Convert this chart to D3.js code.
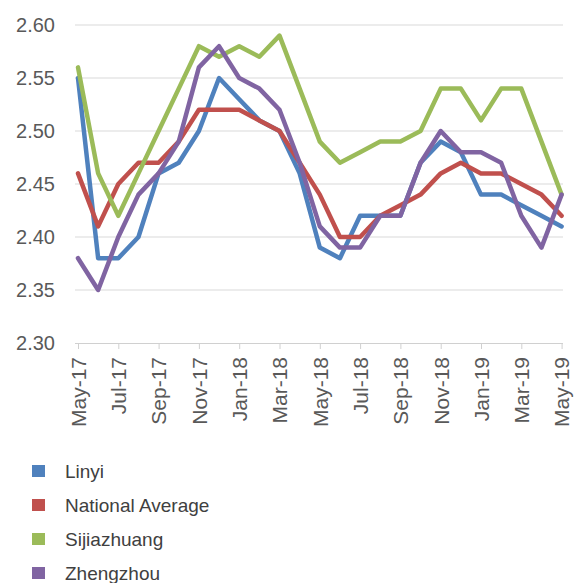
<!DOCTYPE html>
<html>
<head>
<meta charset="utf-8">
<script src="https://cdn.jsdelivr.net/npm/d3@7"></script>
<style>
  body { margin: 0; background: #fff; }
  text { font-family: 'Liberation Sans', Arial, sans-serif; }
</style>
</head>
<body>
<div id="container"></div>
<script>
var WIDTH = 583;
var HEIGHT = 583;

const months = ['May-17', 'Jun-17', 'Jul-17', 'Aug-17', 'Sep-17', 'Oct-17', 'Nov-17', 'Dec-17',
                'Jan-18', 'Feb-18', 'Mar-18', 'Apr-18', 'May-18', 'Jun-18', 'Jul-18', 'Aug-18',
                'Sep-18', 'Oct-18', 'Nov-18', 'Dec-18', 'Jan-19', 'Feb-19', 'Mar-19', 'Apr-19', 'May-19'];

const linyi = [2.55, 2.38, 2.38, 2.40, 2.46, 2.47, 2.50, 2.55, 2.53, 2.51, 2.50, 2.46, 2.39,
               2.38, 2.42, 2.42, 2.42, 2.47, 2.49, 2.48, 2.44, 2.44, 2.43, 2.42, 2.41];
const nationalAverage = [2.46, 2.41, 2.45, 2.47, 2.47, 2.49, 2.52, 2.52, 2.52, 2.51, 2.50, 2.47, 2.44,
                         2.40, 2.40, 2.42, 2.43, 2.44, 2.46, 2.47, 2.46, 2.46, 2.45, 2.44, 2.42];
const sijiazhuang = [2.56, 2.46, 2.42, 2.46, 2.50, 2.54, 2.58, 2.57, 2.58, 2.57, 2.59, 2.54, 2.49,
                     2.47, 2.48, 2.49, 2.49, 2.50, 2.54, 2.54, 2.51, 2.54, 2.54, 2.49, 2.44];
const zhengzhou = [2.38, 2.35, 2.40, 2.44, 2.46, 2.49, 2.56, 2.58, 2.55, 2.54, 2.52, 2.47, 2.41,
                   2.39, 2.39, 2.42, 2.42, 2.47, 2.50, 2.48, 2.48, 2.47, 2.42, 2.39, 2.44];

const seriesNames = ['Linyi', 'National Average', 'Sijiazhuang', 'Zhengzhou'];
const seriesColors = ['#4f81bd', '#c0504d', '#9bbb59', '#8064a2'];
const yTicks = [2.30, 2.35, 2.40, 2.45, 2.50, 2.55, 2.60];

const series = [linyi, nationalAverage, sijiazhuang, zhengzhou];

const svg = d3.select('#container')
  .append('svg')
    .attr('width', WIDTH)
    .attr('height', HEIGHT)
    .style('background', '#fff');

const x = d3.scalePoint()
            .domain(months)
            .range([78, 561.6]);

const y = d3.scaleLinear()
            .domain([2.30, 2.60])
            .range([343, 25]);

// gridlines
svg.append('g')
   .selectAll('line')
   .data(yTicks.slice(1))
   .enter()
   .append('line')
     .attr('x1', 75)
     .attr('x2', 563)
     .attr('y1', d => y(d))
     .attr('y2', d => y(d))
     .attr('stroke', '#d9d9d9')
     .attr('stroke-width', 1);

// y labels
svg.append('g')
   .selectAll('text')
   .data(yTicks)
   .enter()
   .append('text')
     .attr('x', 55)
     .attr('y', d => y(d))
     .attr('dy', '0.35em')
     .attr('text-anchor', 'end')
     .attr('fill', '#595959')
     .style('font-size', '20px')
     .text(d => d.toFixed(2));

// x axis, label every 2nd month
const xAxis = d3.axisBottom(x)
                .tickValues(months.filter((m, i) => i % 2 == 0))
                .tickSize(6)
                .tickSizeOuter(0);

const axisG = svg.append('g')
                 .attr('transform', `translate(0, ${y(2.30)})`)
                 .call(xAxis);

axisG.select('.domain')
     .attr('d', `M75,0.5H563`)
     .attr('stroke', '#d0d0d0');

axisG.selectAll('.tick line')
     .attr('stroke', '#d0d0d0');

axisG.selectAll('.tick text')
     .attr('transform', 'rotate(-90)')
     .attr('x', -14)
     .attr('y', 0)
     .attr('dy', '0.35em')
     .attr('text-anchor', 'end')
     .attr('fill', '#595959')
     .style('font-size', '21px')
     .style('font-family', "'Liberation Sans', Arial, sans-serif");

// lines
const line = d3.line()
               .x((d, i) => x(months[i]))
               .y(d => y(d));

svg.append('g')
   .selectAll('path')
   .data(series)
   .enter()
   .append('path')
     .attr('d', d => line(d))
     .attr('fill', 'none')
     .attr('stroke', (d, i) => seriesColors[i])
     .attr('stroke-width', 4.5)
     .attr('stroke-linejoin', 'round')
     .attr('stroke-linecap', 'round');

// legend
const legend = svg.append('g')
                  .selectAll('g')
                  .data(seriesNames)
                  .enter()
                  .append('g')
                  .attr('transform', (d, i) => `translate(32, ${471 + i * 34})`);

legend.append('rect')
      .attr('x', 0)
      .attr('y', -6)
      .attr('width', 13)
      .attr('height', 12)
      .attr('fill', (d, i) => seriesColors[i]);

legend.append('text')
      .attr('x', 33)
      .attr('y', 0)
      .attr('dy', '0.35em')
      .attr('fill', '#404040')
      .style('font-size', '19px')
      .text(d => d);
</script>
</body>
</html>
